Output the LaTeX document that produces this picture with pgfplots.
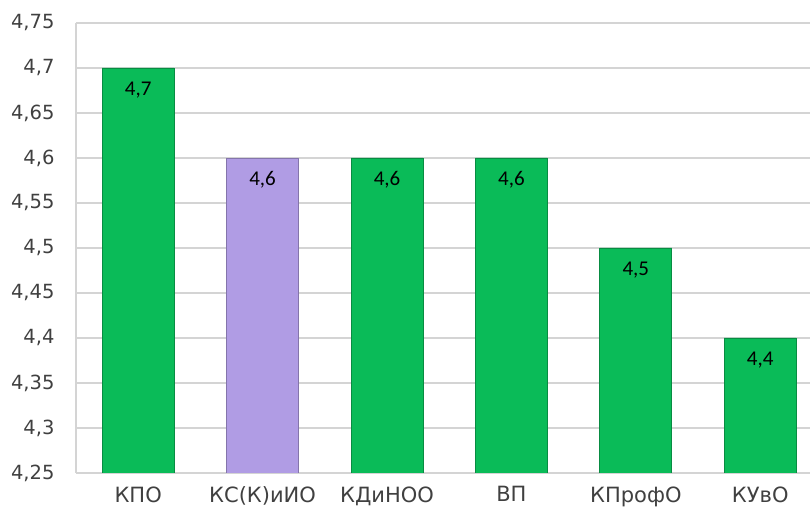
\documentclass[border=0pt]{standalone}
\usepackage{pgfplots}
\pgfplotsset{compat=1.18}
\usepackage{fontspec}
\setmainfont{DejaVu Sans}
\newfontfamily\labfont{Carlito}
\usetikzlibrary{calc}
\definecolor{barg}{RGB}{10,187,88}
\definecolor{barp}{RGB}{176,156,228}
\definecolor{txt}{RGB}{64,64,64}
\definecolor{gridc}{RGB}{212,212,212}
\begin{document}
\begin{tikzpicture}
\begin{axis}[
  scale only axis, width=734pt, height=450pt,
  xmin=-0.5, xmax=5.4, ymin=4.25, ymax=4.75,
  ytick={4.25,4.3,4.35,4.4,4.45,4.5,4.55,4.6,4.65,4.7,4.75},
  xtick={0,1,2,3,4,5},
  xticklabels={КПО, КС(К)иИО, КДиНОО, ВП, КПрофО, КУвО},
  ymajorgrids, grid style={gridc, line width=1.2pt},
  axis x line*=bottom, axis y line*=left,
  axis line style={gridc, line width=1.2pt, -},
  major tick length=0pt,
  tick label style={font=\fontsize{19.5}{22}\selectfont, color=txt},
  /pgf/number format/assume math mode=true,
  yticklabel style={xshift=-18pt, /pgf/number format/fixed, /pgf/number format/use comma, /pgf/number format/precision=2},
  xticklabel style={yshift=-10pt, font=\fontsize{21}{23}\selectfont},
  ybar, bar width=72pt, bar shift=0pt,
  nodes near coords,
  nodes near coords style={anchor=north, yshift=-10pt, font=\labfont\fontsize{21}{23}\selectfont, black,
    /pgf/number format/fixed, /pgf/number format/use comma, /pgf/number format/precision=2},
]
\addplot[fill=barg, draw=barg!75!black, line width=0.8pt] coordinates {(0,4.7) (2,4.6) (3,4.6) (4,4.5) (5,4.4)};
\addplot[fill=barp, draw=barp!75!black, line width=0.8pt] coordinates {(1,4.6)};
\end{axis}
\pgfresetboundingbox
\path[use as bounding box] ($(current axis.south west)+(-76pt,-42pt)$) rectangle ($(current axis.north east)+(0pt,23pt)$);
\end{tikzpicture}
\end{document}
